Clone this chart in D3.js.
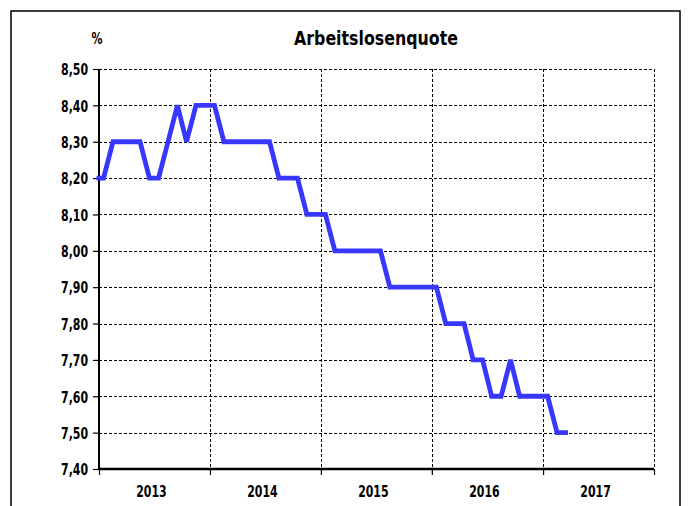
<!DOCTYPE html>
<html>
<head>
<meta charset="utf-8">
<script src="https://cdn.jsdelivr.net/npm/d3@7"></script>
<style>
  body { margin: 0; background: #fff; }
  text { font-family: "DejaVu Sans Condensed", "Liberation Sans Narrow", sans-serif; font-weight: bold; fill: #000; }
</style>
</head>
<body>
<svg id="chart" width="689" height="506"></svg>
<script>
// monthly values (plotted mid-month); the series runs in from the previous December
var startYear = 2012, startMonth = 11;
var quote = [
    8.2,                                                          // Dec 2012
    8.2, 8.3, 8.3, 8.3, 8.3, 8.2, 8.2, 8.3, 8.4, 8.3, 8.4, 8.4,   // 2013
    8.4, 8.3, 8.3, 8.3, 8.3, 8.3, 8.3, 8.2, 8.2, 8.2, 8.1, 8.1,   // 2014
    8.1, 8.0, 8.0, 8.0, 8.0, 8.0, 8.0, 7.9, 7.9, 7.9, 7.9, 7.9,   // 2015
    7.9, 7.8, 7.8, 7.8, 7.7, 7.7, 7.6, 7.6, 7.7, 7.6, 7.6, 7.6,   // 2016
    7.6, 7.5, 7.5                                                 // 2017
];
var years = [2013, 2014, 2015, 2016, 2017];
var yTicks = [7.4, 7.5, 7.6, 7.7, 7.8, 7.9, 8.0, 8.1, 8.2, 8.3, 8.4, 8.5];

var svg = d3.select("#chart");
var plotL = 99, plotR = 654, plotT = 69, plotB = 469;
var squeeze = 0.76;   // the original font is a narrow one

var data = quote.map(function (v, i) {
    return {date: new Date(startYear, startMonth + i, 16), value: v};
});

var x = d3.scaleTime()
    .domain([new Date(2013, 0, 1), new Date(2018, 0, 1)])
    .range([plotL, plotR]);
var y = d3.scaleLinear()
    .domain([7.4, 8.5])
    .range([plotB, plotT]);

function narrow(sel) {
    sel.each(function () {
        var t = d3.select(this),
            tx = +t.attr("x") || 0,
            ty = +t.attr("y") || 0;
        t.attr("x", null).attr("y", null)
            .attr("transform", "translate(" + tx + "," + ty + ") scale(" + squeeze + ",1)");
    });
}

svg.append("defs").append("clipPath").attr("id", "plotclip")
    .append("rect")
    .attr("x", plotL - 2.5).attr("y", 0)
    .attr("width", plotR - plotL + 20).attr("height", 506);

// outer frame
svg.append("rect")
    .attr("x", 11).attr("y", 11)
    .attr("width", 669).attr("height", 520)
    .attr("fill", "none")
    .attr("stroke", "#000")
    .attr("stroke-width", 1.5);

// horizontal grid
svg.append("g").selectAll("line")
    .data(yTicks.slice(1))
    .enter().append("line")
    .attr("x1", plotL).attr("x2", plotR)
    .attr("y1", function (d) { return Math.round(y(d)) + 0.5; })
    .attr("y2", function (d) { return Math.round(y(d)) + 0.5; })
    .attr("stroke", "#000")
    .attr("stroke-width", 1)
    .attr("stroke-dasharray", "3,2");

// vertical grid at year boundaries
var bounds = years.map(function (yr) { return new Date(yr + 1, 0, 1); });
svg.append("g").selectAll("line")
    .data(bounds)
    .enter().append("line")
    .attr("x1", function (d) { return Math.round(x(d)) + 0.5; })
    .attr("x2", function (d) { return Math.round(x(d)) + 0.5; })
    .attr("y1", plotT).attr("y2", plotB)
    .attr("stroke", "#000")
    .attr("stroke-width", 1)
    .attr("stroke-dasharray", "3,2");

// y axis
var yAxis = d3.axisLeft(y)
    .tickValues(yTicks)
    .tickSize(6)
    .tickPadding(5)
    .tickFormat(function (d) { return d3.format(".2f")(d).replace(".", ","); });
var gy = svg.append("g")
    .attr("transform", "translate(" + plotL + ",0)")
    .call(yAxis);
gy.select(".domain").remove();
gy.selectAll(".tick line").attr("stroke", "#000").attr("stroke-width", 1.2);
gy.selectAll(".tick text")
    .attr("font-size", 16)
    .attr("fill", "#000")
    .attr("dy", "0.36em")
    .call(narrow);
gy.append("line")
    .attr("x1", 0).attr("x2", 0)
    .attr("y1", plotT).attr("y2", plotB)
    .attr("stroke", "#000").attr("stroke-width", 2);

// x axis
var xAxis = d3.axisBottom(x)
    .tickValues([new Date(2013, 0, 1)].concat(bounds))
    .tickSize(6)
    .tickFormat("");
var gx = svg.append("g")
    .attr("transform", "translate(0," + plotB + ")")
    .call(xAxis);
gx.select(".domain").remove();
gx.selectAll(".tick line").attr("stroke", "#000").attr("stroke-width", 1.2);
gx.append("line")
    .attr("x1", plotL).attr("x2", plotR)
    .attr("y1", 0).attr("y2", 0)
    .attr("stroke", "#000").attr("stroke-width", 2.5);

// year labels centred in each year
svg.append("g").selectAll("text")
    .data(years)
    .enter().append("text")
    .attr("x", function (d) { return (x(new Date(d, 0, 1)) + x(new Date(d + 1, 0, 1))) / 2 - 3; })
    .attr("y", 497)
    .attr("text-anchor", "middle")
    .attr("font-size", 16)
    .text(function (d) { return d; })
    .call(narrow);

// the line
var line = d3.line()
    .x(function (d) { return x(d.date); })
    .y(function (d) { return y(d.value); });
svg.append("path")
    .datum(data)
    .attr("clip-path", "url(#plotclip)")
    .attr("d", line)
    .attr("fill", "none")
    .attr("stroke", "#3737FF")
    .attr("stroke-width", 4.8)
    .attr("stroke-linejoin", "miter")
    .attr("stroke-linecap", "square");

// title and unit
svg.append("text")
    .attr("x", 376).attr("y", 45)
    .attr("text-anchor", "middle")
    .attr("font-size", 20)
    .text("Arbeitslosenquote")
    .call(function (s) { s.attr("textLength", 164).attr("lengthAdjust", "spacingAndGlyphs"); });
svg.append("text")
    .attr("x", 97).attr("y", 44)
    .attr("text-anchor", "middle")
    .attr("font-size", 16)
    .text("%")
    .call(narrow);
</script>
</body>
</html>
